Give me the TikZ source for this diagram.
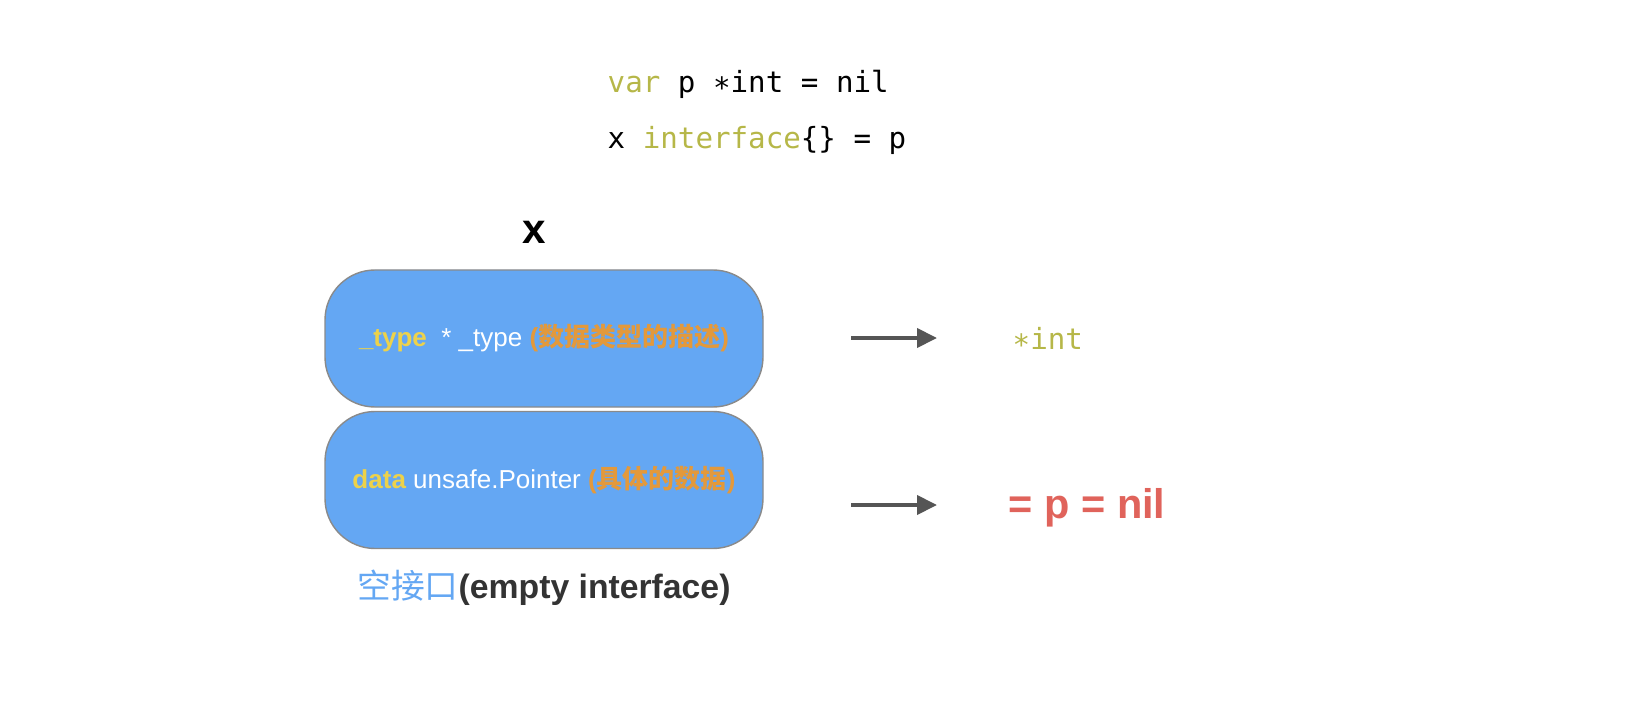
\documentclass[tikz,border=0pt]{standalone}
\usepackage{fontspec}
\setmainfont{Liberation Sans}
\setmonofont{DejaVu Sans Mono}
\newfontfamily\cjk{Noto Sans CJK SC}
\usetikzlibrary{positioning, arrows.meta}

\definecolor{boxblue}{HTML}{64A7F3}
\definecolor{boxline}{HTML}{8A8A8A}
\definecolor{kwolive}{HTML}{B6B748}
\definecolor{fldyellow}{HTML}{EDD24A}
\definecolor{noteorange}{HTML}{E3993B}
\definecolor{nilred}{HTML}{E0635B}
\definecolor{arrgray}{HTML}{555555}
\definecolor{labgray}{HTML}{333333}

\newcommand{\codefont}{\ttfamily\fontsize{8.3}{10}\selectfont}
\newcommand{\kw}[1]{\textcolor{kwolive}{#1}}

\begin{document}
\begin{tikzpicture}[x=1cm, y=1cm,
    field/.style={draw=boxline, fill=boxblue, rounded corners=0.5cm,
                  minimum width=4.38cm, minimum height=1.37cm, inner sep=0pt,
                  font=\fontsize{7.4}{9}\selectfont, text=white},
    code/.style={anchor=west, inner sep=0pt, font=\codefont},
    arr/.style={-{Triangle[length=0.2cm, width=0.19cm]}, line width=0.04cm, arrgray}]
    \useasboundingbox (0,0) rectangle (16.48,-7.22);

    %% code on top
    \node[code] (line1) at (6.07,-0.84) {\kw{var} p ∗int = nil};
    \node[code] (line2) at (6.07,-1.40) {x \kw{interface}\{\} = p};

    %% the interface value
    \node[font=\bfseries\fontsize{12}{14}\selectfont] (xname) at (5.34,-2.32) {x};
    \node[field] (typebox) at (5.44,-3.385)
        {\textcolor{fldyellow}{\bfseries \_type}\ \ * \_type \textcolor{noteorange}{\bfseries (\cjk 数据类型的描述\normalfont\bfseries)}};
    \node[field] (databox) at (5.44,-4.80)
        {\textcolor{fldyellow}{\bfseries data} unsafe.Pointer \textcolor{noteorange}{\bfseries (\cjk 具体的数据\normalfont\bfseries)}};
    \node[font=\fontsize{9.6}{11}\selectfont] (caption) at (5.44,-5.88)
        {\textcolor{boxblue}{\cjk 空接口}\textcolor{labgray}{\bfseries(empty interface)}};

    %% what it holds
    \node[code, text=kwolive] (typeval) at (10.12,-3.38) {∗int};
    \node[anchor=west, inner sep=0pt, text=nilred, font=\bfseries\fontsize{11.8}{14}\selectfont] (dataval) at (10.08,-5.08) {= p = nil};

    \coordinate (tfrom) at (8.51,-3.38);
    \coordinate (tto) at (9.37,-3.38);
    \coordinate (dfrom) at (8.51,-5.05);
    \coordinate (dto) at (9.37,-5.05);
    \draw[arr] (tfrom) -- (tto);
    \draw[arr] (dfrom) -- (dto);
\end{tikzpicture}
\end{document}
